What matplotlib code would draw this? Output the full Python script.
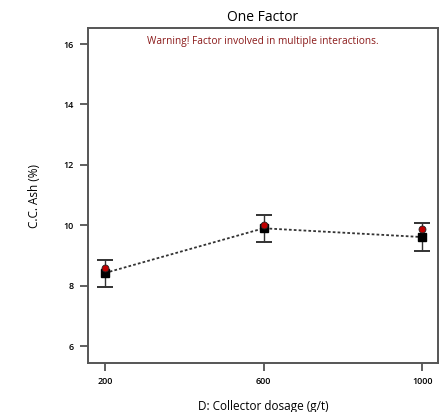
import matplotlib
matplotlib.use("Agg")
import matplotlib.pyplot as plt

plt.rcParams["font.family"] = ["Open Sans", "DejaVu Sans"]

# collector dosage levels and model output
dosage = [200, 600, 1000]
predicted = [8.42, 9.90, 9.61]
ci_low = [7.97, 9.45, 9.16]
ci_high = [8.86, 10.35, 10.07]
actual = [8.60, 10.00, 9.88]
y_ticks = [6, 8, 10, 12, 14, 16]

fig = plt.figure(figsize=(4.43, 4.12), dpi=100)
ax = fig.add_axes([0.1986, 0.1189, 0.79, 0.8131])

yerr = [[p - lo for p, lo in zip(predicted, ci_low)],
        [hi - p for p, hi in zip(predicted, ci_high)]]
ax.errorbar(dosage, predicted, yerr=yerr, fmt="none", ecolor="#333333",
            elinewidth=1.0, capsize=6, capthick=1.4, zorder=2)
ax.plot(dosage, predicted, linestyle=(0, (1.5, 1.2)), color="#333333",
        linewidth=1.3, zorder=3)
ax.plot(dosage, predicted, linestyle="none", marker="s", markersize=6,
        color="black", zorder=4)
ax.plot(dosage, actual, linestyle="none", marker="o", markersize=5,
        markerfacecolor="#c00000", markeredgecolor="#222222",
        markeredgewidth=0.6, zorder=5)

ax.set_xlim(157, 1040)
ax.set_ylim(5.44, 16.53)
ax.set_xticks(dosage)
ax.set_yticks(y_ticks)
ax.tick_params(axis="both", direction="out", length=6, width=1.2,
               color="#444444", labelsize=6.5, pad=4)
for label in ax.get_xticklabels() + ax.get_yticklabels():
    label.set_fontweight("semibold")
for spine in ax.spines.values():
    spine.set_linewidth(1.4)
    spine.set_color("#555555")

ax.set_xlabel("D: Collector dosage (g/t)", fontsize=8.5, labelpad=10)
ax.set_ylabel("C.C. Ash (%)", fontsize=8.5, labelpad=16)
ax.set_title("One Factor", fontsize=10, pad=5)
ax.text(0.5, 0.975, "Warning! Factor involved in multiple interactions.",
        transform=ax.transAxes, ha="center", va="top", fontsize=7.3,
        color="#8b1a1a")

fig.savefig("out.png", dpi=100)
